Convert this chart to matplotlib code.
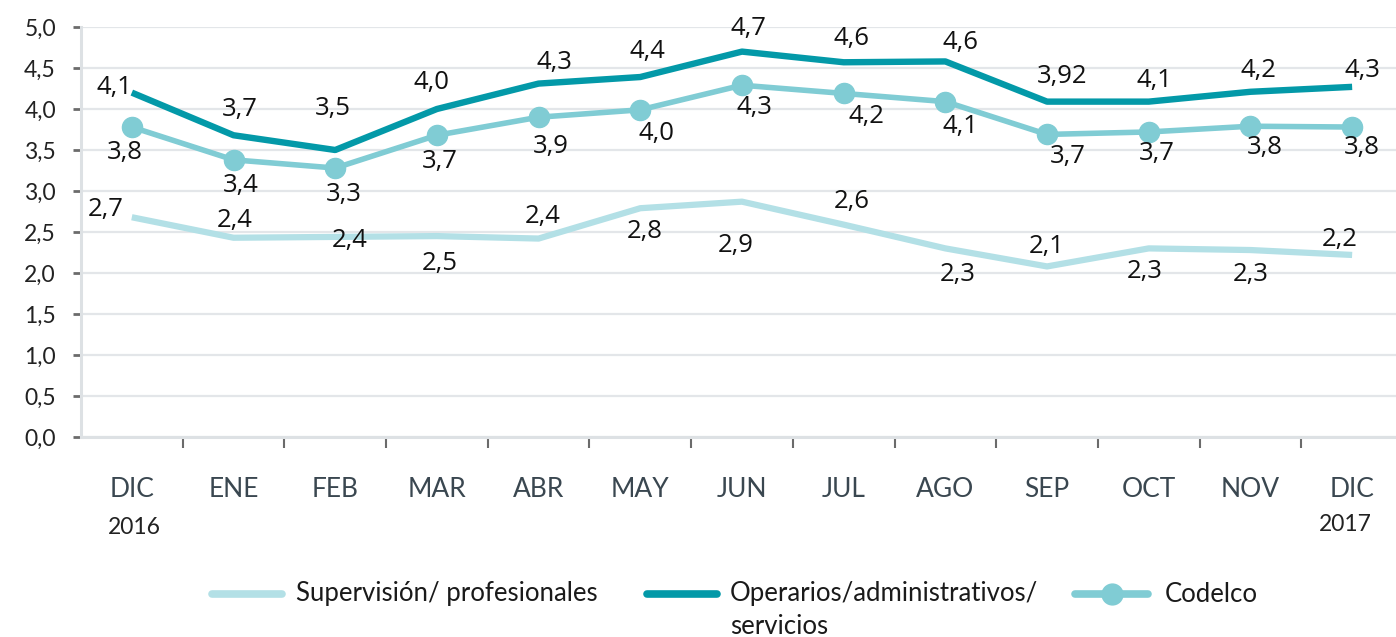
import numpy as np
import matplotlib
matplotlib.use("Agg")
import matplotlib.pyplot as plt
from matplotlib.lines import Line2D

months = ["DIC", "ENE", "FEB", "MAR", "ABR", "MAY", "JUN", "JUL", "AGO", "SEP", "OCT", "NOV", "DIC"]
years = ["2016", "2017"]

supervision = [2.68, 2.43, 2.44, 2.45, 2.42, 2.79, 2.87, 2.59, 2.30, 2.08, 2.30, 2.28, 2.22]
operarios = [4.20, 3.68, 3.50, 4.00, 4.31, 4.39, 4.70, 4.57, 4.58, 4.09, 4.09, 4.21, 4.27]
codelco = [3.78, 3.38, 3.28, 3.68, 3.90, 3.99, 4.29, 4.19, 4.09, 3.69, 3.72, 3.79, 3.78]

sup_labels = ["2,7", "2,4", "2,4", "2,5", "2,4", "2,8", "2,9", "2,6", "2,3", "2,1", "2,3", "2,3", "2,2"]
ope_labels = ["4,1", "3,7", "3,5", "4,0", "4,3", "4,4", "4,7", "4,6", "4,6", "3,92", "4,1", "4,2", "4,3"]
cod_labels = ["3,8", "3,4", "3,3", "3,7", "3,9", "4,0", "4,3", "4,2", "4,1", "3,7", "3,7", "3,8", "3,8"]

# label offsets in pixels (dx, dy up)
sup_off = [(-26, 8), (1, 17), (14, -4), (3, -27), (4, 22), (4, -23), (-6, -44),
           (8, 23), (12, -26), (0, 20), (-4, -23), (0, -24), (-12, 15)]
ope_off = [(-17, 5), (6, 26), (-2, 42), (-5, 27), (16, 21), (7, 26), (6, 23),
           (8, 24), (15, 19), (15, 25), (6, 21), (8, 21), (10, 16)]
cod_off = [(-7, -25), (7, -26), (9, -26), (3, -26), (12, -29), (16, -24), (12, -22),
           (23, -23), (15, -25), (21, -22), (8, -22), (14, -21), (10, -20)]

c_sup = "#b3e0e6"
c_ope = "#0399a8"
c_cod = "#80ccd4"
grid_c = "#e3e6e9"
tick_c = "#6b6b6b"

num_font = ["Open Sans", "DejaVu Sans"]
txt_font = ["Lato", "DejaVu Sans"]

fig = plt.figure(figsize=(13.96, 6.37), dpi=100)
ax = fig.add_axes([0.058, 0.314, 0.947, 0.6436])

x = np.arange(len(months))
ax.plot(x, supervision, color=c_sup, lw=4.5, solid_capstyle="butt", solid_joinstyle="round", zorder=3)
ax.plot(x, operarios, color=c_ope, lw=4.6, solid_capstyle="butt", solid_joinstyle="round", zorder=3)
ax.plot(x, codelco, color=c_cod, lw=4.0, marker="o", ms=14.5, solid_capstyle="butt", zorder=4)

for vals, labs, offs in [(supervision, sup_labels, sup_off),
                         (operarios, ope_labels, ope_off),
                         (codelco, cod_labels, cod_off)]:
    for i, (v, t, o) in enumerate(zip(vals, labs, offs)):
        ax.annotate(t, xy=(i, v), xytext=o, textcoords="offset pixels",
                    ha="center", va="center", fontsize=18.5, family=num_font,
                    color="#111111", zorder=5)

ax.set_xlim(-0.5, 12.5)
ax.set_ylim(0, 5)
ax.set_yticks(np.arange(0, 5.01, 0.5))
ax.set_yticklabels([f"{v:.1f}".replace(".", ",") for v in np.arange(0, 5.01, 0.5)],
                   fontsize=16.5, family=txt_font, color="#222222")
ax.yaxis.grid(True, color=grid_c, lw=1.6)
ax.set_axisbelow(True)

ax.set_xticks(x)
ax.set_xticklabels(months, fontsize=19, family=txt_font, color="#3a4750")
ax.set_xticks(np.arange(0.5, 11.6, 1), minor=True)
ax.tick_params(axis="x", which="major", length=0, pad=29)
ax.tick_params(axis="x", which="minor", length=8, width=1.5, color=tick_c, direction="out")
ax.tick_params(axis="y", length=6, width=2, color=tick_c, pad=12)

for s in ["top", "right"]:
    ax.spines[s].set_visible(False)
ax.spines["left"].set_color("#dde1e4")
ax.spines["left"].set_linewidth(2.2)
ax.spines["bottom"].set_color("#dde1e4")
ax.spines["bottom"].set_linewidth(2.2)

ax.annotate(years[0], xy=(0, 0), xycoords=("data", "axes fraction"), xytext=(3, -91),
            textcoords="offset pixels", ha="center", va="center", fontsize=16.5,
            family=txt_font, color="#222222")
ax.annotate(years[1], xy=(12, 0), xycoords=("data", "axes fraction"), xytext=(-7, -88),
            textcoords="offset pixels", ha="center", va="center", fontsize=16.5,
            family=txt_font, color="#222222")

# legend drawn by hand
W, H = 1396.0, 637.0
ly = 1 - 594 / H
legend = [
    (212, 282, c_sup, None, 296, "Supervisión/ profesionales"),
    (647, 717, c_ope, None, 730, "Operarios/administrativos/"),
    (1075, 1148, c_cod, "o", 1165, "Codelco"),
]
for x0, x1, col, mk, tx, lab in legend:
    fig.add_artist(Line2D([x0 / W, x1 / W], [ly, ly], color=col, lw=5.5,
                          solid_capstyle="round", transform=fig.transFigure))
    if mk:
        fig.add_artist(Line2D([(x0 + x1) / 2 / W], [ly], color=col, marker=mk, ms=15,
                              transform=fig.transFigure))
    fig.text(tx / W, ly, lab, ha="left", va="center", fontsize=18.5,
             family=txt_font, color="#1a1a1a")
fig.text(730 / W, 1 - 626 / H, "servicios", ha="left", va="center", fontsize=18.5,
         family=txt_font, color="#1a1a1a")

fig.savefig("out.png", dpi=100)
